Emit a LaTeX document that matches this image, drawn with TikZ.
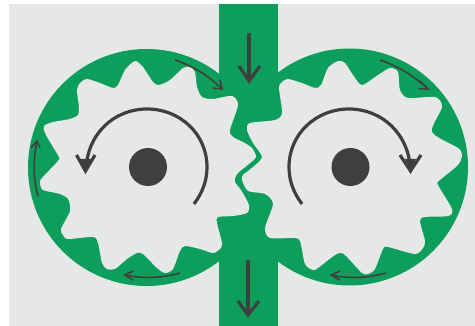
\documentclass[tikz,border=0pt]{standalone}
\definecolor{pgrey}{HTML}{E6E8E8}
\definecolor{pgreen}{HTML}{0C9E5A}
\definecolor{pdark}{HTML}{403E3F}
\tikzset{
  gearshape/.style={fill=pgrey,draw=none},
  bigarrow/.style={draw=pdark,line width=3.2pt,line cap=butt,line join=miter},
  smallarrow/.style={draw=pdark,line width=1.6pt,line join=miter},
}
\begin{document}
\begin{tikzpicture}[x=1pt,y=-1pt]
\useasboundingbox (0,0) rectangle (475,326);
\fill[white] (0,0) rectangle (475,326);
\fill[pgrey] (9,4) rectangle (475,326);
\fill[pgreen] (146.5,167.5) circle (118.5);
\fill[pgreen] (349.5,167) circle (118.5);
\fill[pgreen] (219,4) rectangle (278,326);
% left gear
\path[gearshape] plot[smooth cycle,tension=0.45] coordinates {
(135,61)(143,67)(153,82)(159,85)(170,80)(183,68)(190,67)(195,72)(197,87)(202,97)(213,99)(232,96)(238,105)(230,130)(233,137)(243,142)(252,148)(256,157)(249,164)(237,174)(235,182)(241,190)(249,205)(247,213)(233,216)(218,217)(217,223)(222,243)(220,249)(213,253)(200,249)(185,246)(180,251)(173,269)(165,273)(157,268)(143,254)(137,253)(127,259)(115,269)(107,269)(102,263)(98,243)(93,237)(68,239)(63,235)(61,229)(70,211)(68,199)(60,194)(43,190)(40,183)(42,178)(58,161)(59,157)(53,147)(45,133)(44,126)(53,122)(70,119)(78,115)(79,107)(77,90)(80,83)(87,79)(100,83)(113,88)(118,85)(125,70)};
% right gear
\path[gearshape] plot[smooth cycle,tension=0.45] coordinates {
(338,61)(328,68)(321,85)(315,88)(302,83)(288,79)(282,82)(279,88)(282,113)(275,120)(250,123)(247,130)(253,143)(262,157)(253,167)(243,175)(242,180)(248,191)(265,194)(273,204)(265,228)(270,238)(293,238)(300,241)(305,264)(313,270)(318,268)(335,255)(342,253)(348,258)(362,273)(368,274)(375,269)(383,249)(388,247)(415,254)(423,248)(425,241)(420,221)(425,217)(448,216)(452,209)(438,185)(440,180)(458,165)(462,155)(458,148)(432,132)(442,107)(435,97)(408,98)(400,90)(398,72)(390,68)(378,75)(362,85)(353,75)(345,63)};
% hubs
\fill[pdark] (148,167) circle (19);
\fill[pdark] (350.5,167) circle (19);
% big rotation arrows
\draw[bigarrow] (194,204) .. controls (203,192) and (207,180) .. (207,167) .. controls (207,134) and (180,109) .. (147,109) .. controls (114,109) and (87,134) .. (86,170);
\draw[bigarrow] (76.5,155) -- (85.5,171) -- (95,155);
\fill[pdark] (80,159) -- (85.5,171) -- (91,159) -- cycle;
\draw[bigarrow] (302,204) .. controls (293,192) and (289,180) .. (289,167) .. controls (289,134) and (316,109) .. (349,109) .. controls (382,109) and (409,134) .. (410.5,170);
\draw[bigarrow] (400,155) -- (410.5,171) -- (421,155);
\fill[pdark] (405,159) -- (410.5,171) -- (416,159) -- cycle;
% channel arrows
\draw[bigarrow] (249,33) -- (249,81);
\draw[bigarrow] (239,66) -- (249,81) -- (260,66);
\draw[bigarrow] (248,260) -- (248,315);
\draw[bigarrow] (238,301) -- (248,315) -- (259,301);
% small flow arrows
\draw[smallarrow] (175,60) .. controls (193,66) and (209,76) .. (222,89);
\draw[smallarrow] (213,88) -- (222,89) -- (220,80);
\draw[smallarrow] (38,196) .. controls (33,178) and (33,160) .. (37,141);
\draw[smallarrow] (31,148) -- (37,141) -- (40,148);
\draw[smallarrow] (180,273) .. controls (162,278) and (143,279) .. (125,275);
\draw[smallarrow] (133,271) -- (125,275) -- (133,280);
\draw[smallarrow] (380,60) .. controls (398,66) and (414,76) .. (428,89);
\draw[smallarrow] (418,88.5) -- (428,89) -- (420,81);
\draw[smallarrow] (386,273) .. controls (368,278) and (349,279) .. (331,275);
\draw[smallarrow] (340,271) -- (331,275) -- (340,280);
\end{tikzpicture}
\end{document}
